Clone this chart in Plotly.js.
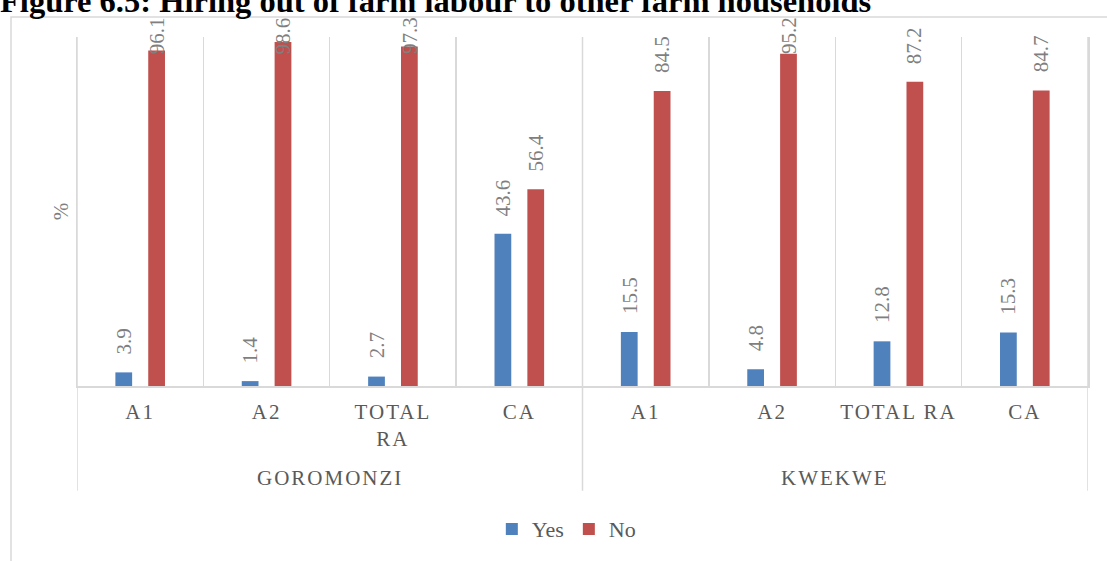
<!DOCTYPE html>
<html>
<head>
<meta charset="utf-8">
<script src="https://cdn.plot.ly/plotly-3.0.1.min.js"></script>
<style>
  html, body { margin: 0; padding: 0; background: #fff; }
  #chart { width: 1107px; height: 561px; }
  /* spaced capitals on the category labels */
  .xtick text { letter-spacing: 2px; }
  .annotation[data-index="0"] text,
  .annotation[data-index="1"] text { letter-spacing: 2px; }
</style>
</head>
<body>
<div id="chart"></div>
<script>
// Districts and land-reform schemes
const districts = ['GOROMONZI', 'KWEKWE'];
const schemes = ['A1', 'A2', 'TOTAL RA', 'CA'];
// Tick labels for each bar slot (the first "TOTAL RA" wraps onto two lines)
const tickLabels = ['A1', 'A2', 'TOTAL<br>RA', 'CA', 'A1', 'A2', 'TOTAL RA', 'CA'];

// Share of households hiring out farm labour (%)
const yesPct = [3.9, 1.4, 2.7, 43.6, 15.5, 4.8, 12.8, 15.3];
const noPct  = [96.1, 98.6, 97.3, 56.4, 84.5, 95.2, 87.2, 84.7];

const seriesNames = ['Yes', 'No'];
const seriesColors = ['#4f81bd', '#c0504d'];

// one slot per district/scheme pair
const nPer = schemes.length;
const slots = [];
districts.forEach(function (d, di) {
  schemes.forEach(function (s, si) { slots.push(di * nPer + si); });
});
const innerBounds = slots.slice(1).map(function (i) { return i - 0.5; });
const groupEdges = [-0.5].concat(districts.map(function (d, di) { return (di + 1) * nPer - 0.5; }));

const serif = 'Liberation Serif, Times New Roman, serif';
const gridCol = '#d9d9d9';

const traces = [yesPct, noPct].map(function (vals, k) {
  return {
    type: 'bar',
    name: seriesNames[k],
    x: slots,
    y: vals,
    marker: { color: seriesColors[k], line: { width: 0 } },
    hoverinfo: 'skip'
  };
});

const annotations = [];

// district names under the scheme labels
districts.forEach(function (d, di) {
  annotations.push({
    xref: 'x', yref: 'paper',
    x: di * nPer + (nPer - 1) / 2, y: -0.263,
    text: d, showarrow: false,
    xanchor: 'center', yanchor: 'middle',
    font: { family: serif, size: 21, color: '#595959' }
  });
});

// rotated value labels above each bar; tall bars keep their label inside the frame
const barShift = 16.4;
[yesPct, noPct].forEach(function (vals, k) {
  vals.forEach(function (v, i) {
    const label = v.toFixed(1);
    const len = label.replace('.', '').length * 11 + 5.5;
    annotations.push({
      xref: 'x', yref: 'y',
      x: slots[i], y: Math.min(v, 90),
      xshift: k === 0 ? -barShift : barShift,
      yshift: 17 + len / 2,
      text: label,
      textangle: -90,
      showarrow: false,
      xanchor: 'center', yanchor: 'middle',
      font: { family: serif, size: 21, color: '#7f7f7f' }
    });
  });
});

// district dividers running from the plot top through the label rows
const shapes = groupEdges.map(function (xb) {
  return {
    type: 'line', xref: 'x', yref: 'paper',
    x0: xb, x1: xb, y0: 1, y1: -0.3,
    line: { color: gridCol, width: 1.5 }
  };
});
// chart frame
shapes.push({
  type: 'rect', xref: 'paper', yref: 'paper', layer: 'below',
  x0: (11 - 77) / 1011, x1: (1130 - 77) / 1011,
  y0: (387 - 17) / 350, y1: (387 - 590) / 350,
  line: { color: gridCol, width: 1.5 },
  fillcolor: 'rgba(0,0,0,0)'
});

const layout = {
  width: 1107, height: 561,
  margin: { l: 77, r: 19, t: 37, b: 174, pad: 0 },
  paper_bgcolor: '#ffffff',
  plot_bgcolor: '#ffffff',
  font: { family: serif, color: '#595959' },
  title: {
    text: 'Figure 6.5: Hiring out of farm labour to other farm households',
    font: { family: serif, size: 32.5, color: '#000000', weight: 'bold' },
    xref: 'container', x: 0, xanchor: 'left',
    yref: 'container', y: 1 - 12 / 561, yanchor: 'bottom',
    pad: { t: 0, b: 0, l: 0, r: 0 }
  },
  barmode: 'group',
  bargap: 0.48,
  bargroupgap: 0.49,
  xaxis: {
    type: 'linear',
    range: [-0.5, slots.length - 0.5],
    tickmode: 'array', tickvals: slots, ticktext: tickLabels,
    showgrid: false,
    minor: {
      tickmode: 'array', tickvals: innerBounds,
      showgrid: true, gridcolor: gridCol, gridwidth: 1.3, ticks: ''
    },
    showline: true, linecolor: gridCol, linewidth: 1.5,
    ticks: 'outside', ticklen: 6, tickcolor: 'rgba(0,0,0,0)',
    tickfont: { family: serif, size: 21, color: '#595959' },
    zeroline: false,
    fixedrange: true
  },
  yaxis: {
    range: [0, 100],
    showgrid: false, zeroline: false,
    showticklabels: false, ticks: '',
    showline: true, mirror: true, linecolor: gridCol, linewidth: 1.5,
    title: { text: '%', standoff: 1, font: { family: serif, size: 21, color: '#7f7f7f' } },
    fixedrange: true
  },
  showlegend: true,
  legend: {
    orientation: 'h',
    x: 0.484, xanchor: 'center',
    y: -0.406, yanchor: 'middle',
    font: { family: serif, size: 22, color: '#595959' },
    itemwidth: 30
  },
  shapes: shapes,
  annotations: annotations
};

Plotly.newPlot('chart', traces, layout, { displayModeBar: false, staticPlot: true });
</script>
</body>
</html>
